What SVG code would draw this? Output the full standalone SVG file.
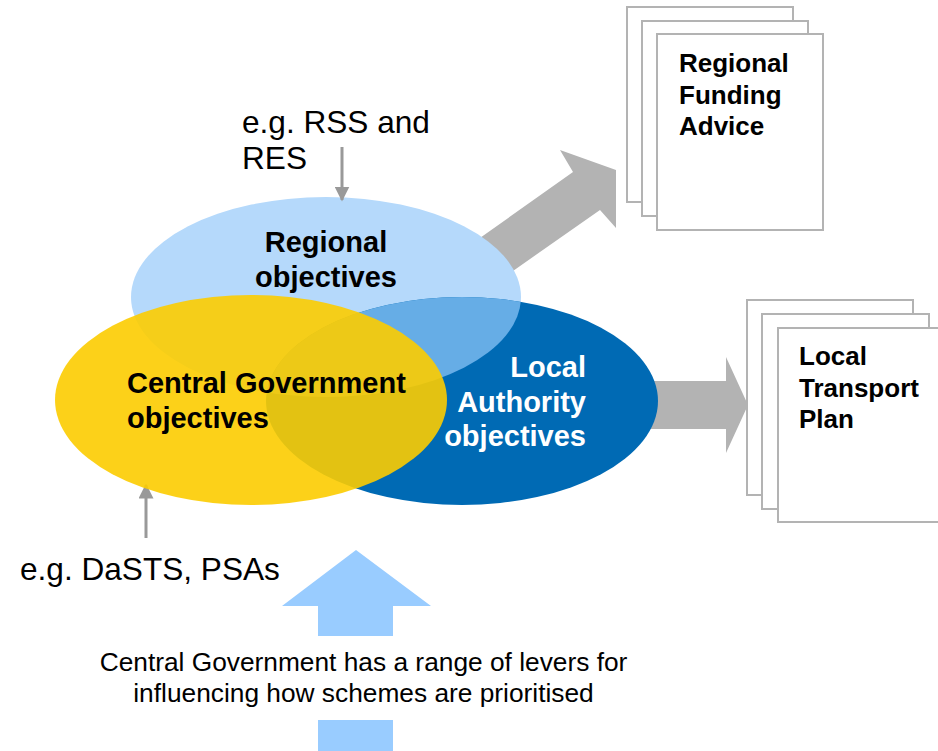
<svg xmlns="http://www.w3.org/2000/svg" width="938" height="751" viewBox="0 0 938 751">
<style>
.doc{fill:#fff;stroke:#b3b3b3;stroke-width:2}
.bold{font-family:"Liberation Sans",Arial,sans-serif;font-weight:bold;fill:#000}
.reg{font-family:"Liberation Sans",Arial,sans-serif;fill:#000}
.white{fill:#fff}
.garrow{fill:#b3b3b3}
.barrow{fill:#99ccff}
.thin{stroke:#999;stroke-width:3;fill:none}
</style>
<defs>
<clipPath id="clipDark"><ellipse cx="462" cy="401" rx="196" ry="104"/></clipPath>
<marker id="ah" viewBox="0 0 10 10" refX="9" refY="5" markerWidth="5" markerHeight="5" orient="auto" markerUnits="strokeWidth"><path d="M0,0 L10,5 L0,10 z" fill="#999"/></marker>
</defs>
<g id="connectors">
<polygon class="garrow" points="470,245 573,172 560,150 616,170 616,228 600,210 500,280"/>
<polygon class="garrow" points="640,381 726,381 726,357 748,405 726,453 726,429 640,429"/>
</g>
<g id="regional">
<ellipse cx="326" cy="297" rx="195" ry="100" fill="#b5d9fb"/>
</g>
<g id="local-authority">
<ellipse cx="462" cy="401" rx="196" ry="104" fill="#006ab4"/>
<ellipse cx="326" cy="297" rx="195" ry="100" fill="#66ade6" clip-path="url(#clipDark)"/>
</g>
<g id="connectors-small">
<line class="thin" x1="342" y1="147" x2="342" y2="200" marker-end="url(#ah)"/>
<line class="thin" x1="146" y1="538" x2="146" y2="485" marker-end="url(#ah)"/>
</g>
<g id="central">
<ellipse cx="251" cy="400" rx="196" ry="105" fill="#fccc00" fill-opacity="0.9"/>
</g>
<g id="labels">
<text class="bold" font-size="29" text-anchor="middle" x="326" y="252">Regional</text>
<text class="bold" font-size="29" text-anchor="middle" x="326" y="287">objectives</text>
<text class="bold" font-size="29" x="127" y="393">Central Government</text>
<text class="bold" font-size="29" x="127" y="428">objectives</text>
<text class="bold white" font-size="29" text-anchor="end" x="586" y="377">Local</text>
<text class="bold white" font-size="29" text-anchor="end" x="586" y="412">Authority</text>
<text class="bold white" font-size="29" text-anchor="end" x="586" y="446">objectives</text>
<text class="reg" font-size="31.6" x="242" y="133">e.g. RSS and</text>
<text class="reg" font-size="31.6" x="242" y="169">RES</text>
<text class="reg" font-size="31.6" x="20" y="580">e.g. DaSTS, PSAs</text>
</g>
<g id="regional-funding-advice">
<rect class="doc" x="627" y="7" width="166" height="195"/>
<rect class="doc" x="642" y="21" width="166" height="195"/>
<rect class="doc" x="657" y="34" width="166" height="196"/>
<text class="bold" font-size="26" x="679" y="72">Regional</text>
<text class="bold" font-size="26" x="679" y="104">Funding</text>
<text class="bold" font-size="26" x="679" y="135">Advice</text>
</g>
<g id="local-transport-plan">
<rect class="doc" x="747" y="300" width="166" height="195"/>
<rect class="doc" x="762" y="314" width="167" height="195"/>
<rect class="doc" x="778" y="328" width="166" height="194"/>
<text class="bold" font-size="26" x="799" y="365">Local</text>
<text class="bold" font-size="26" x="799" y="397">Transport</text>
<text class="bold" font-size="26" x="799" y="428">Plan</text>
</g>
<g id="levers">
<polygon class="barrow" points="356,550 431,606 393,606 393,636 318,636 318,606 282,606"/>
<rect class="barrow" x="318" y="720" width="75" height="31"/>
<text class="reg" font-size="26.3" text-anchor="middle" x="363.5" y="671">Central Government has a range of levers for</text>
<text class="reg" font-size="26.3" text-anchor="middle" x="363.5" y="702">influencing how schemes are prioritised</text>
</g>
</svg>
